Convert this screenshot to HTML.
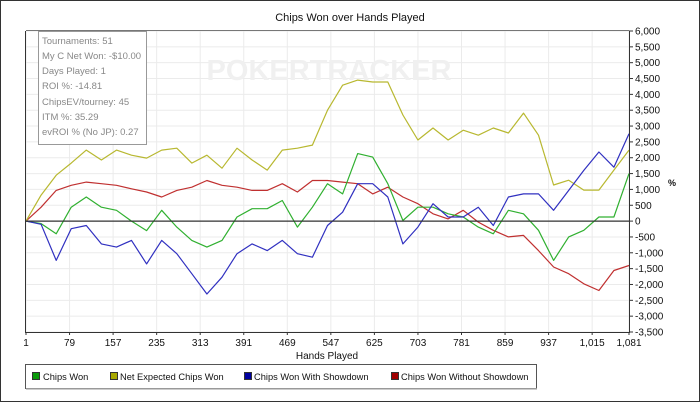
<!DOCTYPE html>
<html><head><meta charset="utf-8"><style>
html,body{margin:0;padding:0;background:#fff}
svg{display:block;font-family:"Liberation Sans",sans-serif}
</style></head><body>
<svg id="c" width="700" height="402" viewBox="0 0 700 402">
<rect x="0.5" y="0.5" width="699" height="401" fill="#fff" stroke="#333"/>
<text x="350" y="21" font-size="11" text-anchor="middle" fill="#111">Chips Won over Hands Played</text>
<g id="grid"></g>
<text x="329" y="80" font-size="29" font-weight="bold" fill="#f0f0f0" text-anchor="middle">POKERTRACKER</text>
<g id="series"></g>
<g id="axes"></g>
<g>
<rect x="38.5" y="31.5" width="108" height="113" fill="#fff" stroke="#999"/>
<g font-size="9.5" fill="#888">
<text x="42" y="44">Tournaments: 51</text>
<text x="42" y="59">My C Net Won: -$10.00</text>
<text x="42" y="74">Days Played: 1</text>
<text x="42" y="89">ROI %: -14.81</text>
<text x="42" y="105">ChipsEV/tourney: 45</text>
<text x="42" y="120">ITM %: 35.29</text>
<text x="42" y="135">evROI % (No JP): 0.27</text>
</g></g>
<text x="327" y="359" font-size="10" text-anchor="middle" fill="#111">Hands Played</text>
<text x="668" y="186" font-size="9" font-weight="bold" fill="#111">%</text>
<g>
<rect x="25.5" y="364.5" width="511" height="24" fill="#fff" stroke="#555" stroke-width="1"/>
<rect x="26" y="388" width="511" height="1.5" fill="#999"/>
<g font-size="9.3" fill="#111">
<g><rect x="32.5" y="372.5" width="7" height="7" fill="#0a9a0a" stroke="#333"/><text x="43" y="380">Chips Won</text></g>
<g><rect x="110.5" y="372.5" width="7" height="7" fill="#a8a800" stroke="#333"/><text x="120" y="380">Net Expected Chips Won</text></g>
<g><rect x="244.5" y="372.5" width="7" height="7" fill="#0000a0" stroke="#333"/><text x="254" y="380">Chips Won With Showdown</text></g>
<g><rect x="391.5" y="372.5" width="7" height="7" fill="#a00000" stroke="#333"/><text x="401" y="380">Chips Won Without Showdown</text></g>
</g></g>
</svg>
<script>
const hands=[1,28,55,82,109,136,163,190,217,244,271,298,325,352,379,406,433,460,487,514,541,568,595,622,649,676,703,730,757,784,811,838,865,892,919,946,973,1000,1027,1054,1081];
const chipsWon=[0,-80,-400,440,760,440,340,0,-300,340,-190,-610,-820,-610,130,390,390,650,-190,440,1180,860,2130,2020,1180,20,440,440,230,130,-190,-400,340,230,-290,-1240,-500,-290,130,130,1500];
const netExpected=[0,820,1450,1830,2240,1930,2240,2080,1990,2240,2300,1830,2080,1670,2300,1930,1610,2240,2300,2400,3500,4290,4450,4390,4390,3350,2560,2940,2560,2870,2710,2940,2780,3410,2710,1140,1290,980,980,1610,2240];
const withShowdown=[0,-100,-1240,-240,-140,-720,-820,-610,-1350,-610,-1030,-1660,-2300,-1770,-1030,-720,-930,-610,-1030,-1140,-140,280,1180,1180,760,-720,-190,550,130,130,440,-140,760,860,860,340,970,1600,2180,1700,2760];
const withoutShowdown=[0,440,970,1130,1230,1180,1130,1020,920,760,970,1070,1280,1130,1070,970,970,1180,920,1280,1280,1230,1180,860,1070,760,550,230,70,340,-30,-290,-500,-450,-930,-1450,-1660,-1980,-2190,-1560,-1400];
const xTicks=[1,79,157,235,313,391,469,547,625,703,781,859,937,1015,1081];
const xTickLabels=["1","79","157","235","313","391","469","547","625","703","781","859","937","1,015","1,081"];
const yTicks=[6000,5500,5000,4500,4000,3500,3000,2500,2000,1500,1000,500,0,-500,-1000,-1500,-2000,-2500,-3000,-3500];
const yTickLabels=["6,000","5,500","5,000","4,500","4,000","3,500","3,000","2,500","2,000","1,500","1,000","500","0","-500","-1,000","-1,500","-2,000","-2,500","-3,000","-3,500"];
const X0=26,X1=629,Y0=31,Y1=332;
const xs=h=>X0+(h-1)/(1081-1)*(X1-X0);
const ys=v=>Y0+(6000-v)/9500*(Y1-Y0);
const NS="http://www.w3.org/2000/svg";
function mk(t,a,p){const e=document.createElementNS(NS,t);for(const k in a)e.setAttribute(k,a[k]);p.appendChild(e);return e;}
const grid=document.getElementById('grid'),axes=document.getElementById('axes'),ser=document.getElementById('series');
yTicks.forEach((v,i)=>{
  const y=ys(v);
  const g=mk('line',{x1:X0,x2:X1,y1:y,y2:y,stroke:'#ebebeb','stroke-width':1},grid);
  
  
  const t=mk('line',{x1:X1,x2:X1+4,y1:y,y2:y,stroke:'#333'},axes);
  
  
  const l=mk('text',{x:X1+6,y:y+3.5,'font-size':10,fill:'#111'},axes);
  l.textContent=yTickLabels[i];
  
  
});
xTicks.forEach((h,i)=>{
  const x=xs(h);
  const g=mk('line',{x1:x,x2:x,y1:Y0,y2:Y1,stroke:'#ebebeb','stroke-width':1},grid);
  
  
  const t=mk('line',{x1:x,x2:x,y1:Y1,y2:Y1+3,stroke:'#333'},axes);
  
  
  const l=mk('text',{x:x,y:Y1+14,'font-size':10,fill:'#111','text-anchor':'middle'},axes);
  l.textContent=xTickLabels[i];
  
  
});
const zl=mk('line',{x1:X0,x2:X1,y1:ys(0),y2:ys(0),stroke:'#333','stroke-width':1.2},axes);


const fr=mk('path',{d:`M${X0-0.5},${Y0} V${Y1+0.5} H${X1+0.5} V${Y0}`,fill:'none',stroke:'#333','stroke-width':1},axes);


const tl=mk('line',{x1:X0,x2:X1,y1:Y0-0.5,y2:Y0-0.5,stroke:'#777'},axes);


function line(vals,color,name){
  const d=vals.map((v,i)=>(i?'L':'M')+xs(hands[i]).toFixed(1)+','+ys(v).toFixed(1)).join(' ');
  const p=mk('path',{d:d,fill:'none',stroke:color,'stroke-width':1.2,'stroke-linejoin':'round'},ser);
  
  
}
line(withoutShowdown,'#c03030','series-chips-won-without-showdown');
line(netExpected,'#b8b830','series-net-expected-chips-won');
line(chipsWon,'#30b030','series-chips-won');
line(withShowdown,'#3030c0','series-chips-won-with-showdown');
</script>
</body></html>
